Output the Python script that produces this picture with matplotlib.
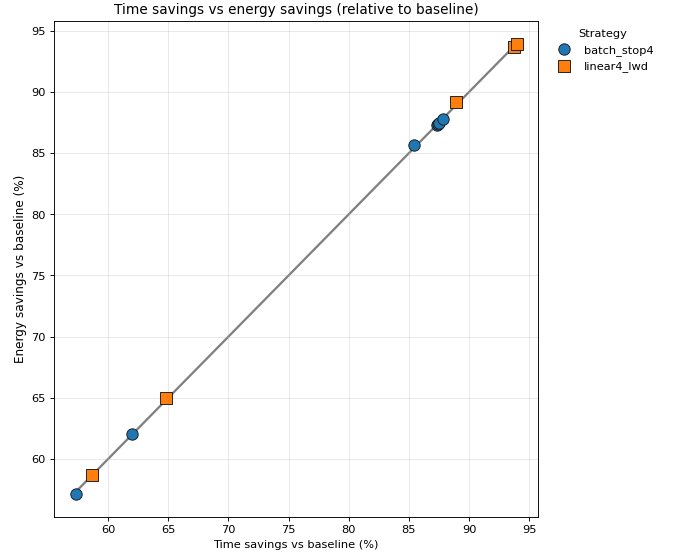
import numpy as np
import matplotlib
matplotlib.use("Agg")
import matplotlib.pyplot as plt

# time savings / energy savings (%) relative to baseline
batch_time = [57.3, 62.0, 85.4, 87.3, 87.4, 87.5, 87.8]
batch_energy = [57.1, 62.0, 85.7, 87.3, 87.4, 87.5, 87.8]
linear_time = [58.7, 64.8, 88.9, 93.7, 94.0]
linear_energy = [58.7, 65.0, 89.2, 93.7, 93.9]

fig, ax = plt.subplots(figsize=(8.33, 6.82), dpi=82)

all_vals = batch_time + batch_energy + linear_time + linear_energy
lo, hi = min(all_vals), max(all_vals)
ax.plot([lo, hi], [lo, hi], color="gray", lw=2, zorder=1)

ax.scatter(batch_time, batch_energy, s=100, marker="o", color="#1f77b4",
           edgecolors="#1a1a1a", linewidths=0.8, label="batch_stop4", zorder=3)
ax.scatter(linear_time, linear_energy, s=100, marker="s", color="#ff7f0e",
           edgecolors="#1a1a1a", linewidths=0.8, label="linear4_lwd", zorder=3)

ax.set_xlim(55.5, 95.75)
ax.set_ylim(55.25, 95.8)
ax.set_xticks(np.arange(60, 96, 5))
ax.set_yticks(np.arange(60, 96, 5))
ax.grid(True, alpha=0.3)
ax.set_xlabel("Time savings vs baseline (%)")
ax.set_ylabel("Energy savings vs baseline (%)", fontsize=10.5)
ax.set_title("Time savings vs energy savings (relative to baseline)")
ax.legend(title="Strategy", loc="upper left", bbox_to_anchor=(1.008, 1.005),
          frameon=False)

plt.subplots_adjust(left=0.079, right=0.788, top=0.962, bottom=0.075)
plt.savefig("out.png")
